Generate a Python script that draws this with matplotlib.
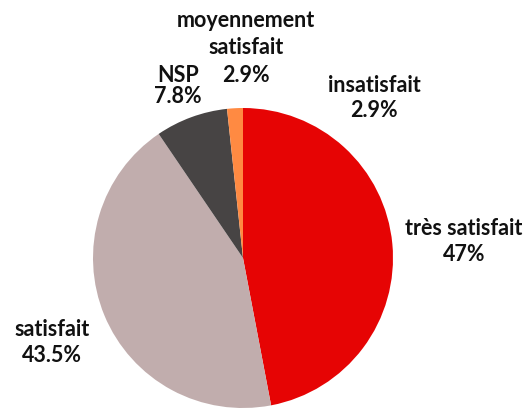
import matplotlib
matplotlib.use('Agg')
import matplotlib.pyplot as plt

# slices, clockwise from 12 o'clock
categories = ['très satisfait', 'satisfait', 'NSP', 'moyennement satisfait', 'insatisfait']
values = [47, 43.5, 7.8, 1.7, 0]
labels = ['très satisfait\n47%', 'satisfait\n43.5%', 'NSP\n7.8%',
          'moyennement\nsatisfait\n2.9%', 'insatisfait\n2.9%']
colors = ['#e60404', '#c1adad', '#474444', '#ff8a42', '#ffb000']

# label centre x and text baselines in pixels (from top)
label_x = [464, 52, 178, 246, 374]
label_baselines = [[235, 261], [336, 362], [82, 103], [27, 54, 82], [92, 117]]

W, H = 529, 409
fig = plt.figure(figsize=(W / 100, H / 100), dpi=100)

cx, cy, r = 243, 258, 150
ax = fig.add_axes([(cx - r) / W, (H - cy - r) / H, 2 * r / W, 2 * r / H])
ax.pie(values, colors=colors, startangle=90, counterclock=False,
       wedgeprops=dict(linewidth=0))
ax.set_xlim(-1, 1)
ax.set_ylim(-1, 1)

for txt, x, ys in zip(labels, label_x, label_baselines):
    for line, y in zip(txt.split('\n'), ys):
        fig.text(x / W, 1 - y / H, line, ha='center', va='baseline',
                 fontsize=15.5, fontweight='bold', family='Lato',
                 color='#111111')

fig.savefig('out.png', dpi=100)
